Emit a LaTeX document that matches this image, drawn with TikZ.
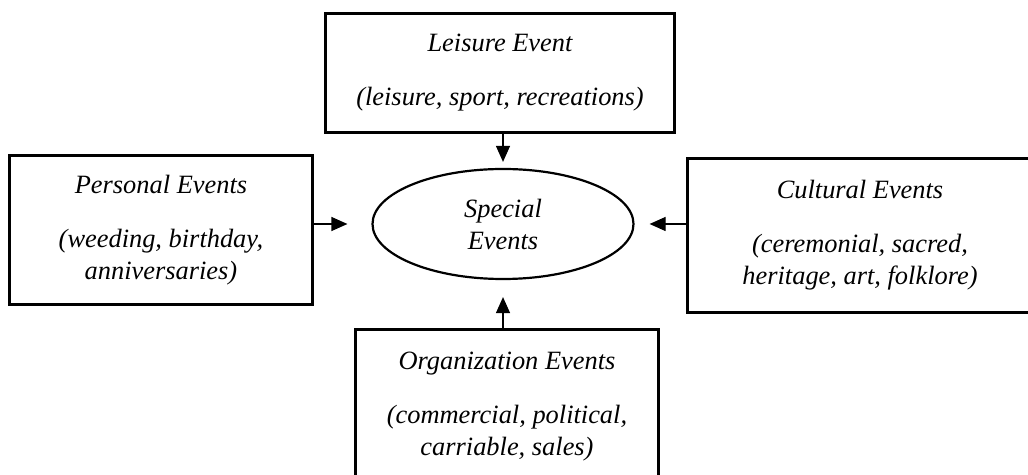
\documentclass[tikz,border=0pt]{standalone}
\usepackage{fontspec}
\setmainfont{Liberation Serif}
\usetikzlibrary{shapes.geometric, positioning, arrows.meta}
\tikzset{
  >={Triangle[length=16pt,width=14pt]},
  every node/.style={font=\fontsize{26.4}{32}\selectfont\itshape, align=center},
  event/.style={draw, line width=2.6pt, inner sep=0pt},
  core/.style={draw, ellipse, line width=2.2pt, inner sep=0pt,
    minimum width=261pt, minimum height=110pt},
  feed/.style={->, line width=1.2pt},
}

\begin{document}
\begin{tikzpicture}[x=1pt, y=1pt]
  \useasboundingbox (0,0) rectangle (1028,474);

  \node[core] (special) at (503,250) {Special\\Events};
  \node[event, minimum width=349pt, minimum height=119pt,
        above of=special, node distance=151pt, xshift=-3pt] (leisure)
        {Leisure Event\\[22pt](leisure, sport, recreations)};
  \node[event, minimum width=303pt, minimum height=149pt,
        left of=special, node distance=342pt, yshift=-6pt] (personal)
        {Personal Events\\[22pt](weeding, birthday,\\anniversaries)};
  \node[event, minimum width=345pt, minimum height=154pt,
        right of=special, node distance=357pt, yshift=-11.5pt] (cultural)
        {Cultural Events\\[22pt](ceremonial, sacred,\\heritage, art, folklore)};
  \node[event, minimum width=303pt, minimum height=155pt,
        below of=special, node distance=183pt, xshift=4pt] (organization)
        {Organization Events\\[22pt](commercial, political,\\carriable, sales)};

  \draw[feed, shorten >=6pt]  (leisure.south -| special) -- (special.north);
  \draw[feed, shorten >=24pt] (personal.east |- special) -- (special.west);
  \draw[feed, shorten >=15pt] (cultural.west |- special) -- (special.east);
  \draw[feed, shorten >=17pt] (organization.north -| special) -- (special.south);
\end{tikzpicture}
\end{document}
